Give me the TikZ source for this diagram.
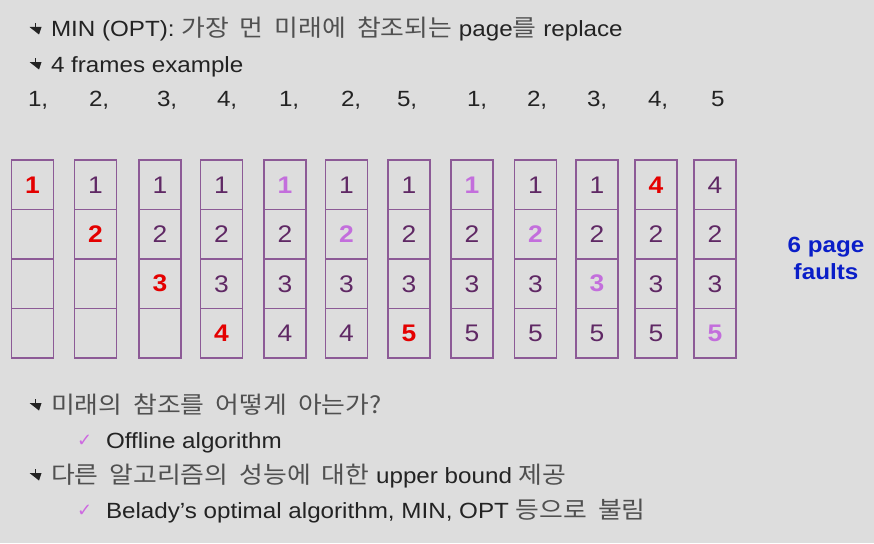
\documentclass[tikz,border=0pt]{standalone}
\usepackage{fontspec}
\setmainfont[FakeStretch=1.1]{Liberation Sans}
\newfontfamily\ko[FakeStretch=1.1,WordSpace=1.9]{Noto Sans CJK KR}
\newfontfamily\dv{DejaVu Sans}
\definecolor{bg}{RGB}{221,221,221}
\definecolor{txt}{RGB}{35,35,35}
\definecolor{kr}{RGB}{80,80,80}
\definecolor{boxc}{RGB}{140,90,150}
\definecolor{dp}{RGB}{95,40,100}
\definecolor{rd}{RGB}{228,0,0}
\definecolor{lp}{RGB}{195,110,220}
\definecolor{ckc}{RGB}{205,105,225}
\definecolor{pfblue}{RGB}{10,30,200}
\newcommand\rdn[1]{\textcolor{rd}{\bfseries #1}}
\newcommand\lpn[1]{\textcolor{lp}{\bfseries #1}}
\newcommand\dpn[1]{\textcolor{dp}{#1}}
\newcommand\kk[1]{{\ko\fontsize{23.5}{26}\selectfont\color{kr}#1}}
\begin{document}
\begin{tikzpicture}[x=1pt,y=-1pt,
  every node/.style={inner sep=0pt, outer sep=0pt},
  line/.style={anchor=base west, text=txt, font=\fontsize{22}{26}\selectfont},
  cell/.style={draw=boxc, line width=1.3pt, minimum width=42pt, minimum height=49.5pt, font=\fontsize{24}{28}\selectfont},
  ck/.style={anchor=base west, text=ckc, font=\dv\fontsize{18}{22}\selectfont},
  bul/.pic={
    \draw[txt, line width=1.2pt] (5.5,-14) -- (5.5,-9);
    \fill[txt] (-0.5,-10) -- (11.5,-10) -- (9,-2.5) -- cycle;
  }]
\useasboundingbox (0,0) rectangle (874,543);
\fill[bg] (0,0) rectangle (874,543);

% header lines
\pic at (30,37) {bul};
\node[line] (l1) at (51,37) {MIN (OPT): \kk{가장 먼 미래에 참조되는} page\kk{를} replace};
\pic at (30,72) {bul};
\node[line] (l2) at (51,72) {4 frames example};

% reference string
\foreach \k/\x/\v in {1/28/{1,},2/89/{2,},3/157/{3,},4/217/{4,},5/279/{1,},6/341/{2,},7/397/{5,},8/467/{1,},9/527/{2,},10/587/{3,},11/648/{4,},12/711/{5}}
  \node[line] (r\k) at (\x,106) {\v};

% frames
\foreach \i/\cx/\a/\b/\c/\d in {
  1/32.5/\rdn{1}/{}/{}/{},
  2/95.5/\dpn{1}/\rdn{2}/{}/{},
  3/160/\dpn{1}/\dpn{2}/\rdn{3}/{},
  4/221.5/\dpn{1}/\dpn{2}/\dpn{3}/\rdn{4},
  5/285/\lpn{1}/\dpn{2}/\dpn{3}/\dpn{4},
  6/346.5/\dpn{1}/\lpn{2}/\dpn{3}/\dpn{4},
  7/409/\dpn{1}/\dpn{2}/\dpn{3}/\rdn{5},
  8/472/\lpn{1}/\dpn{2}/\dpn{3}/\dpn{5},
  9/535.5/\dpn{1}/\lpn{2}/\dpn{3}/\dpn{5},
  10/597/\dpn{1}/\dpn{2}/\lpn{3}/\dpn{5},
  11/656/\rdn{4}/\dpn{2}/\dpn{3}/\dpn{5},
  12/715/\dpn{4}/\dpn{2}/\dpn{3}/\lpn{5}}{
  \node[cell] (c\i-1) at (\cx,184.75) {\a};
  \node[cell] (c\i-2) at (\cx,234.25) {\b};
  \node[cell] (c\i-3) at (\cx,283.75) {\c};
  \node[cell] (c\i-4) at (\cx,333.25) {\d};
}

\node[text=pfblue, font=\bfseries\fontsize{22}{27}\selectfont, align=center] (pf) at (826,258) {6 page\\faults};

% bottom lines
\pic at (30,413) {bul};
\node[line] (b1) at (51,413) {\kk{미래의 참조를 어떻게 아는가?}};
\node[ck] (k1) at (77,446) {✓};
\node[line] (b2) at (106,448) {Offline algorithm};
\pic at (30,483) {bul};
\node[line] (b3) at (51,483) {\kk{다른 알고리즘의 성능에 대한} upper bound \kk{제공}};
\node[ck] (k2) at (77,516) {✓};
\node[line] (b4) at (106,518) {Belady’s optimal algorithm, MIN, OPT \kk{등으로 불림}};
\end{tikzpicture}
\end{document}
